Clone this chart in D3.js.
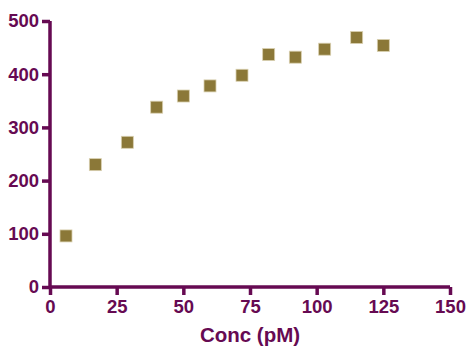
<!DOCTYPE html>
<html>
<head>
<meta charset="utf-8">
<script src="https://cdn.jsdelivr.net/npm/d3@7"></script>
<style>
  body { margin: 0; background: #fff; }
  svg text { font-family: "Liberation Sans", Arial, sans-serif; font-weight: bold; }
</style>
</head>
<body>
<div id="chart"></div>
<script>
// data
var conc = [6, 17, 29, 40, 50, 60, 72, 82, 92, 103, 115, 125];
var signal = [96, 230, 272, 338, 359, 378, 398, 437, 432, 447, 469, 454];
var xTicks = [0, 25, 50, 75, 100, 125, 150];
var yTicks = [0, 100, 200, 300, 400, 500];

var axisColor = "#660a52",
    markColor = "#8b7838";

var width = 467, height = 350;
var margin = { left: 50, right: 17, top: 21, bottom: 63 };

var svg = d3.select("#chart")
    .append("svg")
    .attr("width", width)
    .attr("height", height);

var x = d3.scaleLinear().domain([0, 150]).range([margin.left, width - margin.right]);
var y = d3.scaleLinear().domain([0, 500]).range([height - margin.bottom, margin.top]);

// y axis
var gy = svg.append("g")
    .attr("transform", "translate(" + margin.left + ",0)")
    .call(d3.axisLeft(y).tickValues(yTicks).tickSize(8).tickPadding(3));

// x axis
var gx = svg.append("g")
    .attr("transform", "translate(0," + (height - margin.bottom) + ")")
    .call(d3.axisBottom(x).tickValues(xTicks).tickSize(8).tickPadding(5));

[gx, gy].forEach(function (g) {
    g.select(".domain")
        .attr("stroke", axisColor)
        .attr("stroke-width", 3.5);
    g.selectAll(".tick line")
        .attr("stroke", axisColor)
        .attr("stroke-width", 3.5);
    g.selectAll(".tick text")
        .attr("fill", axisColor)
        .attr("font-size", 18.5);
});
gy.select(".domain").attr("d", "M0," + y(0) + "V" + y(500));
gx.select(".domain").attr("d", "M" + x(0) + ",0H" + x(150));

svg.append("text")
    .attr("x", x(75))
    .attr("y", 342)
    .attr("text-anchor", "middle")
    .attr("fill", axisColor)
    .attr("font-size", 20.5)
    .text("Conc (pM)");

// markers
var s = 12;
svg.append("g")
    .selectAll("rect")
    .data(conc)
    .enter()
    .append("rect")
    .attr("x", function (d) { return x(d) - s / 2; })
    .attr("y", function (d, i) { return y(signal[i]) - s / 2; })
    .attr("width", s)
    .attr("height", s)
    .attr("fill", markColor)
    .attr("stroke", "#d9d0b0")
    .attr("stroke-width", 0.8);
</script>
</body>
</html>
